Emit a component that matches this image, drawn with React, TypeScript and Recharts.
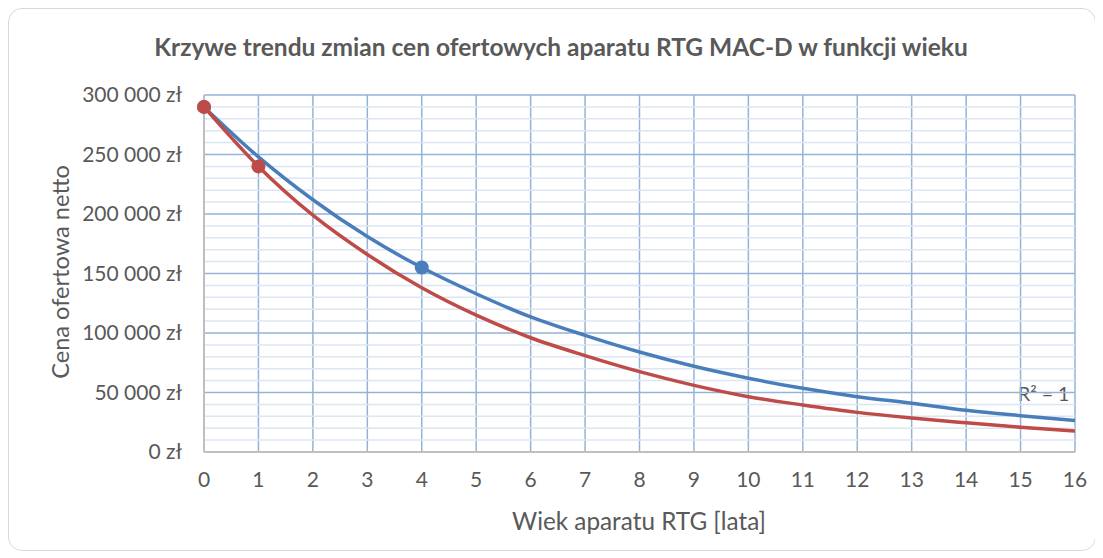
import React from 'react';
import { ComposedChart, Line, XAxis, YAxis, CartesianGrid, ReferenceLine } from 'recharts';

const ages = [0, 1, 2, 3, 4, 5, 6, 7, 8, 9, 10, 11, 12, 13, 14, 15, 16];
const bluePrices = [290000, 248000, 212000, 181000, 155000, 133000, 113500, 98000, 84000, 72000, 62000, 53500, 46500, 41000, 35000, 30500, 26500];
const redPrices = [290000, 240000, 199000, 166000, 138000, 115000, 96000, 81000, 67500, 56000, 46500, 39500, 33300, 28500, 24500, 20800, 17600];
const blueMarkerAges = [0, 4];
const blueMarkerPrices = [290000, 155000];
const redMarkerAges = [0, 1];
const redMarkerPrices = [290000, 240000];
const yTicks = [0, 50000, 100000, 150000, 200000, 250000, 300000];
const minorY = [10000, 20000, 30000, 40000, 60000, 70000, 80000, 90000, 110000, 120000, 130000, 140000, 160000, 170000, 180000, 190000, 210000, 220000, 230000, 240000, 260000, 270000, 280000, 290000];

const title = 'Krzywe trendu zmian cen ofertowych aparatu RTG MAC-D w funkcji wieku';
const yTitle = 'Cena ofertowa netto';
const xTitle = 'Wiek aparatu RTG [lata]';
const rLabel = 'R² = 1';

const blueData = ages.map((a, i) => ({ x: a, y: bluePrices[i] }));
const redData = ages.map((a, i) => ({ x: a, y: redPrices[i] }));
const blueMarkers = blueMarkerAges.map((a, i) => ({ x: a, y: blueMarkerPrices[i] }));
const redMarkers = redMarkerAges.map((a, i) => ({ x: a, y: redMarkerPrices[i] }));

const fmt = (v: number) => {
  if (v === 0) return '0 zł';
  const s = String(v);
  return s.slice(0, s.length - 3) + ' ' + s.slice(-3) + ' zł';
};

const FONT = 'Lato, "Open Sans", sans-serif';
const TXT = '#595959';
const BLUE = '#4A7EBB';
const RED = '#BE4B48';

export default function App() {
  return (
    <div
      style={{
        position: 'relative',
        width: 1088,
        height: 543,
        boxSizing: 'border-box',
        border: '1px solid #D9D9D9',
        borderRadius: 14,
        fontFamily: FONT,
        color: TXT,
        background: '#fff',
      }}
    >
      <div
        style={{
          position: 'absolute',
          left: 552,
          top: 37,
          transform: 'translate(-50%, -50%)',
          whiteSpace: 'nowrap',
          fontWeight: 700,
          fontSize: 24.5,
        }}
      >
        {title}
      </div>
      <div
        style={{
          position: 'absolute',
          left: 51,
          top: 263,
          transform: 'translate(-50%, -50%) rotate(-90deg)',
          whiteSpace: 'nowrap',
          fontSize: 23.6,
        }}
      >
        {yTitle}
      </div>
      <div
        style={{
          position: 'absolute',
          left: 630,
          top: 511,
          transform: 'translate(-50%, -50%)',
          whiteSpace: 'nowrap',
          fontSize: 24.3,
        }}
      >
        {xTitle}
      </div>
      <div
        style={{
          position: 'absolute',
          left: 1009,
          top: 384,
          transform: 'translateY(-50%)',
          whiteSpace: 'nowrap',
          fontSize: 19.5,
        }}
      >
        {rLabel}
      </div>
      <ComposedChart width={1086} height={541} margin={{ top: 86, right: 20, left: 85, bottom: 38 }}>
        <CartesianGrid stroke="#95B3D7" strokeWidth={1.5} />
        {minorY.map((v) => (
          <ReferenceLine key={v} y={v} stroke="#DCE6F2" strokeWidth={1.5} />
        ))}
        <XAxis
          dataKey="x"
          type="number"
          domain={[0, 16]}
          ticks={ages}
          interval={0}
          allowDuplicatedCategory={false}
          height={60}
          tickSize={0}
          tickMargin={20}
          axisLine={{ stroke: '#BFBFBF', strokeWidth: 2 }}
          tick={{ fill: TXT, fontSize: 21, fontFamily: FONT }}
        />
        <YAxis
          dataKey="y"
          type="number"
          domain={[0, 300000]}
          ticks={yTicks}
          interval={0}
          width={110}
          tickSize={0}
          tickMargin={22}
          tickFormatter={fmt}
          axisLine={{ stroke: '#BFBFBF', strokeWidth: 2 }}
          tick={{ fill: TXT, fontSize: 21, fontFamily: FONT }}
        />
        <Line data={blueData} dataKey="y" type="monotone" stroke={BLUE} strokeWidth={3.5} dot={false} isAnimationActive={false} />
        <Line data={redData} dataKey="y" type="monotone" stroke={RED} strokeWidth={3.5} dot={false} isAnimationActive={false} />
        <Line data={blueMarkers} dataKey="y" stroke="none" dot={{ r: 7, fill: BLUE, stroke: 'none' }} isAnimationActive={false} />
        <Line data={redMarkers} dataKey="y" stroke="none" dot={{ r: 7, fill: RED, stroke: 'none' }} isAnimationActive={false} />
      </ComposedChart>
    </div>
  );
}
